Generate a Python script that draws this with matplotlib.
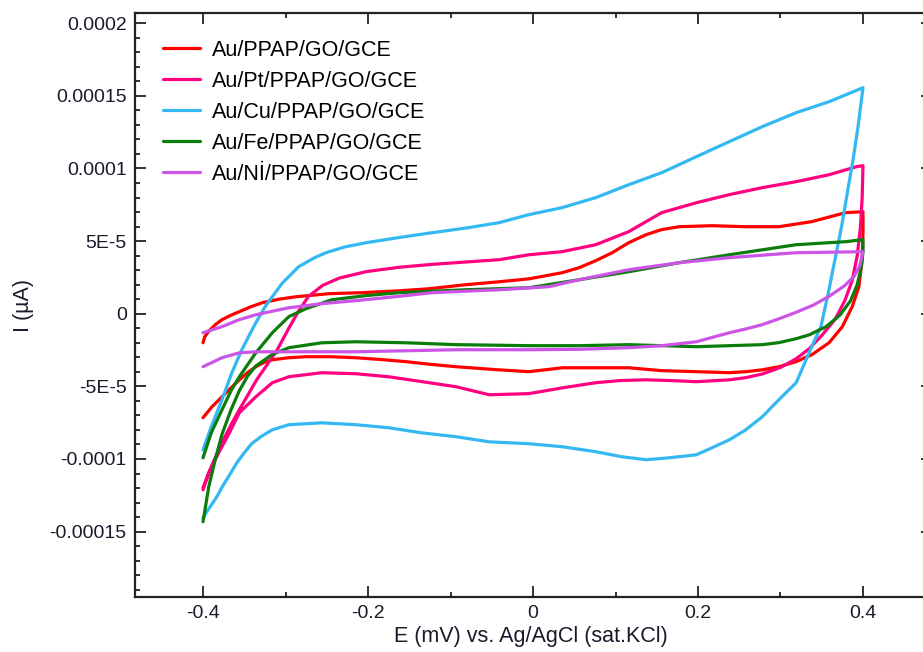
import numpy as np
import matplotlib
matplotlib.use('Agg')
import matplotlib.pyplot as plt
from matplotlib.ticker import MultipleLocator

plt.rcParams['font.family'] = ['Liberation Sans', 'DejaVu Sans']

# Labels
labels = ['Au/PPAP/GO/GCE', 'Au/Pt/PPAP/GO/GCE', 'Au/Cu/PPAP/GO/GCE',
          'Au/Fe/PPAP/GO/GCE', 'Au/Nİ/PPAP/GO/GCE']
colors = ['#ff0000', '#ff0080', '#33b8f2', '#0a7d0a', '#cc55e8']

# Potential (V) and current (units of 1E-5), forward scan then reverse scan
E_au = [-0.400, -0.398, -0.393, -0.385, -0.377, -0.366, -0.356, -0.342, -0.328, -0.308,
        -0.287, -0.247, -0.207, -0.162, -0.126, -0.081, -0.041, -0.005, 0.035, 0.056,
        0.076, 0.096, 0.116, 0.137, 0.156, 0.177, 0.217, 0.258, 0.298, 0.338, 0.379, 0.400,
        0.400, 0.399, 0.395, 0.387, 0.375, 0.359, 0.338, 0.319, 0.298, 0.278, 0.258,
        0.238, 0.198, 0.156, 0.116, 0.076, 0.036, -0.005, -0.045, -0.093, -0.125,
        -0.154, -0.185, -0.215, -0.245, -0.275, -0.296, -0.316, -0.326, -0.336, -0.346,
        -0.356, -0.366, -0.377, -0.389, -0.400]
I_au = [-2.00, -1.60, -1.20, -0.75, -0.41, -0.10, 0.14, 0.48, 0.76, 1.00,
        1.17, 1.38, 1.45, 1.58, 1.72, 2.00, 2.20, 2.40, 2.82, 3.17,
        3.65, 4.20, 4.89, 5.44, 5.79, 5.99, 6.06, 5.99, 5.99, 6.34, 6.96, 7.02,
        5.58, 3.72, 1.86, 0.50, -0.89, -1.99, -2.82, -3.30, -3.65, -3.86, -3.99,
        -4.06, -3.99, -3.92, -3.72, -3.72, -3.72, -3.99, -3.85, -3.65, -3.48,
        -3.30, -3.15, -3.03, -2.96, -2.96, -3.03, -3.17, -3.35, -3.65, -4.05,
        -4.55, -5.10, -5.72, -6.40, -7.16]

E_pt = [-0.400, -0.389, -0.377, -0.366, -0.356, -0.344, -0.335, -0.324, -0.310, -0.296,
        -0.284, -0.272, -0.255, -0.235, -0.202, -0.162, -0.122, -0.041, -0.005, 0.035,
        0.076, 0.116, 0.156, 0.198, 0.238, 0.278, 0.319, 0.359, 0.392, 0.400,
        0.399, 0.397, 0.393, 0.387, 0.378, 0.366, 0.350, 0.335, 0.319, 0.300, 0.278,
        0.258, 0.238, 0.198, 0.167, 0.137, 0.106, 0.076, 0.036, -0.005, -0.053, -0.093,
        -0.134, -0.175, -0.215, -0.256, -0.296, -0.316, -0.336, -0.356, -0.368, -0.381,
        -0.393, -0.400]
I_pt = [-11.98, -10.40, -8.88, -7.64, -6.61, -5.44, -4.55, -3.65, -2.48, -1.00,
        0.20, 1.20, 1.95, 2.45, 2.90, 3.20, 3.40, 3.72, 4.06, 4.27,
        4.75, 5.65, 6.96, 7.64, 8.20, 8.68, 9.09, 9.57, 10.12, 10.19,
        8.00, 6.00, 4.00, 2.30, 0.90, -0.40, -1.50, -2.40, -3.10, -3.70, -4.15,
        -4.40, -4.55, -4.68, -4.60, -4.55, -4.60, -4.75, -5.10, -5.50, -5.58, -5.03,
        -4.68, -4.34, -4.13, -4.06, -4.34, -4.75, -5.72, -6.82, -8.20, -9.57,
        -10.95, -12.12]

E_cu = [-0.400, -0.390, -0.377, -0.365, -0.353, -0.336, -0.324, -0.304, -0.284, -0.265,
        -0.251, -0.228, -0.202, -0.162, -0.122, -0.081, -0.041, -0.005, 0.035, 0.076,
        0.116, 0.156, 0.198, 0.238, 0.278, 0.319, 0.359, 0.400,
        0.394, 0.388, 0.381, 0.374, 0.366, 0.358, 0.349, 0.340, 0.331, 0.319, 0.298,
        0.278, 0.258, 0.238, 0.217, 0.198, 0.165, 0.137, 0.108, 0.076, 0.036, -0.005,
        -0.053, -0.093, -0.135, -0.175, -0.215, -0.256, -0.296, -0.316, -0.330, -0.341,
        -0.350, -0.359, -0.367, -0.376, -0.384, -0.393, -0.400]
I_cu = [-9.37, -7.78, -5.92, -4.06, -2.48, -0.62, 0.55, 2.10, 3.24, 3.85,
        4.20, 4.60, 4.89, 5.25, 5.58, 5.90, 6.27, 6.82, 7.30, 7.99,
        8.88, 9.71, 10.81, 11.85, 12.88, 13.84, 14.60, 15.56,
        12.88, 10.61, 8.33, 5.99, 3.72, 1.45, -0.89, -2.00, -3.17, -4.75, -5.92,
        -7.09, -7.99, -8.68, -9.23, -9.71, -9.92, -10.05, -9.85, -9.50, -9.16, -8.95,
        -8.82, -8.47, -8.20, -7.85, -7.64, -7.51, -7.64, -7.99, -8.47, -8.95,
        -9.57, -10.26, -11.02, -11.85, -12.67, -13.43, -14.05]

E_fe = [-0.400, -0.390, -0.377, -0.366, -0.356, -0.336, -0.316, -0.296, -0.275, -0.244,
        -0.202, -0.162, -0.081, -0.005, 0.056, 0.116, 0.177, 0.238, 0.319, 0.379, 0.400,
        0.400, 0.398, 0.393, 0.385, 0.372, 0.355, 0.335, 0.319, 0.298, 0.278, 0.238,
        0.198, 0.156, 0.116, 0.056, -0.005, -0.093, -0.154, -0.215, -0.256, -0.296,
        -0.316, -0.336, -0.346, -0.356, -0.366, -0.377, -0.385, -0.393, -0.400]
I_fe = [-9.92, -8.20, -6.61, -5.30, -4.34, -2.69, -1.31, -0.20, 0.35, 0.96,
        1.25, 1.45, 1.65, 1.79, 2.34, 2.89, 3.51, 4.06, 4.75, 4.96, 5.10,
        4.27, 3.24, 2.00, 0.90, -0.10, -0.90, -1.45, -1.72, -1.99, -2.13, -2.20,
        -2.27, -2.20, -2.13, -2.20, -2.20, -2.13, -2.00, -1.93, -2.00, -2.34,
        -2.80, -3.60, -4.30, -5.30, -6.60, -8.30, -10.00, -11.90, -14.32]

E_ni = [-0.400, -0.377, -0.356, -0.336, -0.296, -0.256, -0.215, -0.162, -0.122, -0.041,
        0.019, 0.056, 0.116, 0.177, 0.238, 0.319, 0.400,
        0.396, 0.389, 0.377, 0.359, 0.340, 0.319, 0.298, 0.278, 0.258, 0.238, 0.198,
        0.156, 0.116, 0.056, -0.005, -0.093, -0.215, -0.296, -0.336, -0.356, -0.377,
        -0.400]
I_ni = [-1.31, -0.89, -0.41, -0.07, 0.41, 0.69, 0.90, 1.20, 1.45, 1.65,
        1.86, 2.34, 3.03, 3.51, 3.86, 4.20, 4.27,
        3.30, 2.55, 1.90, 1.20, 0.60, 0.10, -0.35, -0.75, -1.05, -1.31, -1.93,
        -2.20, -2.34, -2.45, -2.48, -2.48, -2.62, -2.62, -2.62, -2.69, -3.03,
        -3.65]

E_all = [E_au, E_pt, E_cu, E_fe, E_ni]
I_all = [I_au, I_pt, I_cu, I_fe, I_ni]

y_ticks = [-0.00015, -0.0001, -5e-5, 0, 5e-5, 0.0001, 0.00015, 0.0002]
y_tick_labels = ['-0.00015', '-0.0001', '-5E-5', '0', '5E-5', '0.0001', '0.00015', '0.0002']
x_ticks = [-0.4, -0.2, 0, 0.2, 0.4]
x_tick_labels = ['-0.4', '-0.2', '0', '0.2', '0.4']

fig = plt.figure(figsize=(9.23, 6.52), dpi=100)
# right spine sits just past the image edge, only its tick ends show
ax = fig.add_axes([0.1463, 0.0844, 0.8635, 0.8956])

for E, I, c, lab in zip(E_all, I_all, colors, labels):
    ax.plot(E, np.array(I) * 1e-5, color=c, lw=2.3, label=lab,
            solid_joinstyle='round', solid_capstyle='round')

ax.set_xlim(-0.4824, 0.4837)
ax.set_ylim(-0.000195, 0.000207)
ax.set_xticks(x_ticks)
ax.set_xticklabels(x_tick_labels)
ax.set_yticks(y_ticks)
ax.set_yticklabels(y_tick_labels)
ax.xaxis.set_minor_locator(MultipleLocator(0.1))
ax.yaxis.set_minor_locator(MultipleLocator(1e-5))
ax.tick_params(which='both', direction='in', top=True, right=True, width=1.3, colors='#222222',
               labelsize=14, labelcolor='#1a1a2a')
ax.tick_params(which='major', length=8, pad=6)
ax.tick_params(which='minor', length=3.5)
for sp in ax.spines.values():
    sp.set_linewidth(1.6)
    sp.set_color('#222222')

ax.set_xlabel('E (mV) vs. Ag/AgCl (sat.KCl)', fontsize=15.5, color='#1a1a2a')
ax.set_ylabel('I (µA)', fontsize=15.5, color='#1a1a2a')
ax.yaxis.set_label_coords(-0.127, 0.5)
ax.xaxis.set_label_coords(0.497, -0.05)

ax.legend(loc='upper left', bbox_to_anchor=(0.035, 0.954), frameon=False, fontsize=15.5,
          borderpad=0, handlelength=1.7, handletextpad=0.6, labelspacing=0.46,
          borderaxespad=0)

fig.savefig('out.png', dpi=100)
